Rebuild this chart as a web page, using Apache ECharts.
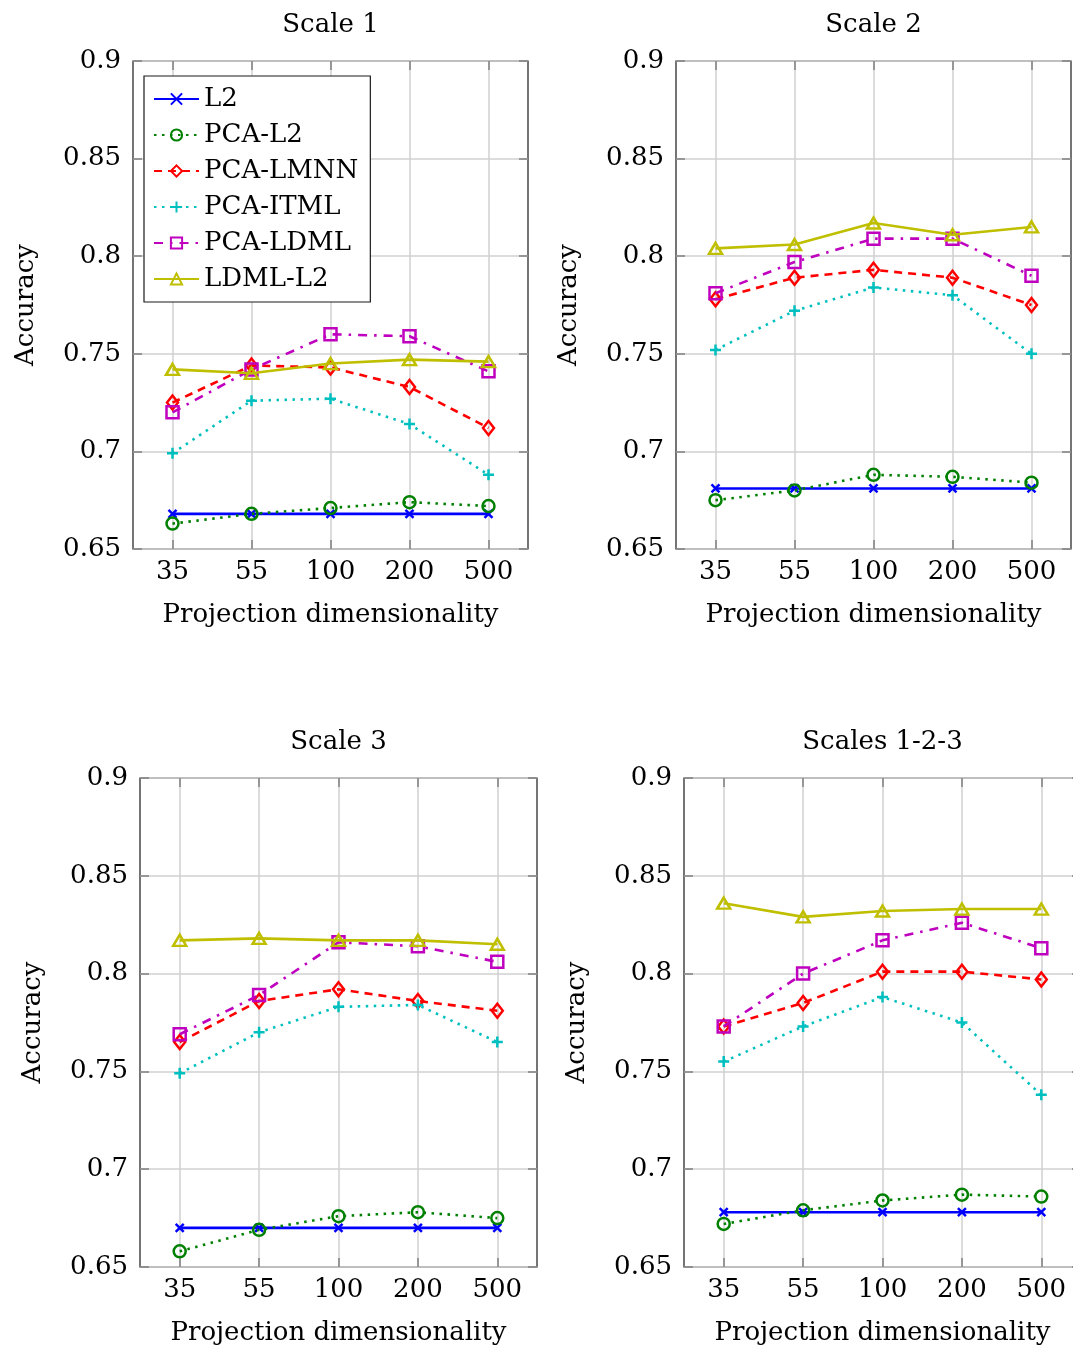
<!DOCTYPE html>
<html>
<head>
<meta charset="utf-8">
<title>Accuracy vs projection dimensionality</title>
<script src="https://cdn.jsdelivr.net/npm/echarts@6/dist/echarts.min.js"></script>
<style>
  html, body { margin: 0; padding: 0; background: #fff; overflow: hidden; }
  #chart { width: 1090px; height: 1347px; }
</style>
</head>
<body>
<div id="chart"></div>
<script>
// Category labels on the x axis (projection dimensionality)
const categories = ['35', '55', '100', '200', '500'];
const panelTitles = ['Scale 1', 'Scale 2', 'Scale 3', 'Scales 1-2-3'];
const methodNames = ['L2', 'PCA-L2', 'PCA-LMNN', 'PCA-ITML', 'PCA-LDML', 'LDML-L2'];
const yMin = 0.65, yMax = 0.9, yStep = 0.05;

// Scale 1
const s1L2       = [0.668, 0.668, 0.668, 0.668, 0.668];
const s1PcaL2    = [0.663, 0.668, 0.671, 0.674, 0.672];
const s1PcaLmnn  = [0.725, 0.744, 0.743, 0.733, 0.712];
const s1PcaItml  = [0.699, 0.726, 0.727, 0.714, 0.688];
const s1PcaLdml  = [0.720, 0.742, 0.760, 0.759, 0.741];
const s1LdmlL2   = [0.742, 0.740, 0.745, 0.747, 0.746];

// Scale 2
const s2L2       = [0.681, 0.681, 0.681, 0.681, 0.681];
const s2PcaL2    = [0.675, 0.680, 0.688, 0.687, 0.684];
const s2PcaLmnn  = [0.778, 0.789, 0.793, 0.789, 0.775];
const s2PcaItml  = [0.752, 0.772, 0.784, 0.780, 0.750];
const s2PcaLdml  = [0.781, 0.797, 0.809, 0.809, 0.790];
const s2LdmlL2   = [0.804, 0.806, 0.817, 0.811, 0.815];

// Scale 3
const s3L2       = [0.670, 0.670, 0.670, 0.670, 0.670];
const s3PcaL2    = [0.658, 0.669, 0.676, 0.678, 0.675];
const s3PcaLmnn  = [0.765, 0.786, 0.792, 0.786, 0.781];
const s3PcaItml  = [0.749, 0.770, 0.783, 0.784, 0.765];
const s3PcaLdml  = [0.769, 0.789, 0.816, 0.814, 0.806];
const s3LdmlL2   = [0.817, 0.818, 0.817, 0.817, 0.815];

// Scales 1-2-3
const s4L2       = [0.678, 0.678, 0.678, 0.678, 0.678];
const s4PcaL2    = [0.672, 0.679, 0.684, 0.687, 0.686];
const s4PcaLmnn  = [0.773, 0.785, 0.801, 0.801, 0.797];
const s4PcaItml  = [0.755, 0.773, 0.788, 0.775, 0.738];
const s4PcaLdml  = [0.773, 0.800, 0.817, 0.826, 0.813];
const s4LdmlL2   = [0.836, 0.829, 0.832, 0.833, 0.833];

const panelData = [
  [s1L2, s1PcaL2, s1PcaLmnn, s1PcaItml, s1PcaLdml, s1LdmlL2],
  [s2L2, s2PcaL2, s2PcaLmnn, s2PcaItml, s2PcaLdml, s2LdmlL2],
  [s3L2, s3PcaL2, s3PcaLmnn, s3PcaItml, s3PcaLdml, s3LdmlL2],
  [s4L2, s4PcaL2, s4PcaLmnn, s4PcaItml, s4PcaLdml, s4LdmlL2]
];

// ---- presentation ----
const FONT = 'DejaVu Serif';
const FS = 26;
const grids = [
  { left: 133, top: 61,  width: 395, height: 488 },
  { left: 676, top: 61,  width: 395, height: 488 },
  { left: 140, top: 778, width: 397, height: 489 },
  { left: 684, top: 778, width: 397, height: 489 }
];

const styles = [
  { color: '#0000ff', dash: 'solid',          symbol: 'path://M0,0L10,10M10,0L0,10', size: 8 },
  { color: '#008000', dash: [2.5, 5.5],       symbol: 'circle',   size: 12 },
  { color: '#ff0000', dash: [8, 6],           symbol: 'diamond',  size: [11, 14] },
  { color: '#00bfbf', dash: [2.5, 5.5],       symbol: 'path://M5,0L5,10M0,5L10,5', size: 11 },
  { color: '#bf00bf', dash: [9, 7, 2.5, 7],   symbol: 'rect',     size: 12 },
  { color: '#bfbf00', dash: 'solid',          symbol: 'triangle', size: [13, 11] }
];

const gridLine = { show: true, lineStyle: { color: '#d0d0d0', width: 1.5 } };
const innerTick = { show: true, inside: true, length: 9, alignWithLabel: true, lineStyle: { color: '#808080', width: 1.5 } };

const xAxes = [], yAxes = [], series = [], graphics = [];

grids.forEach((g, i) => {
  xAxes.push({
    type: 'category', gridIndex: i, data: categories, boundaryGap: true, position: 'bottom',
    axisLine: { show: false },
    axisTick: innerTick,
    splitLine: Object.assign({ alignWithLabel: true }, gridLine),
    axisLabel: { fontFamily: FONT, fontSize: FS, color: '#000', margin: 10 },
    name: 'Projection dimensionality', nameLocation: 'middle', nameGap: 53,
    nameTextStyle: { fontFamily: FONT, fontSize: FS, color: '#000' }
  });
  xAxes.push({
    type: 'category', gridIndex: i, data: categories, boundaryGap: true, position: 'top',
    axisLine: { show: false }, axisTick: innerTick, axisLabel: { show: false }, splitLine: { show: false }
  });
  yAxes.push({
    type: 'value', gridIndex: i, min: yMin, max: yMax, interval: yStep, position: 'left',
    axisLine: { show: false },
    axisTick: innerTick,
    splitLine: gridLine,
    axisLabel: { fontFamily: FONT, fontSize: FS, color: '#000', margin: 12 },
    name: 'Accuracy', nameLocation: 'middle', nameGap: 94, nameRotate: 90,
    nameTextStyle: { fontFamily: FONT, fontSize: FS, color: '#000' }
  });
  yAxes.push({
    type: 'value', gridIndex: i, min: yMin, max: yMax, interval: yStep, position: 'right',
    axisLine: { show: false }, axisTick: innerTick, axisLabel: { show: false }, splitLine: { show: false }
  });

  methodNames.forEach((name, k) => {
    const st = styles[k];
    series.push({
      type: 'line', name: name,
      xAxisIndex: i * 2, yAxisIndex: i * 2,
      data: panelData[i][k],
      symbol: st.symbol, symbolSize: st.size, showSymbol: true, showAllSymbol: true,
      lineStyle: { color: st.color, width: 2.6, type: st.dash, cap: 'butt' },
      itemStyle: { color: 'rgba(255,255,255,0)', borderColor: st.color, borderWidth: 2.5 },
      emphasis: { disabled: true },
      z: 3 + k
    });
  });

  graphics.push({
    type: 'text',
    x: g.left + g.width / 2,
    y: g.top - 36,
    style: { text: panelTitles[i], fontFamily: FONT, fontSize: FS, fill: '#000', textAlign: 'center', textVerticalAlign: 'middle' }
  });
});

const chart = echarts.init(document.getElementById('chart'), null, { renderer: 'canvas' });
chart.setOption({
  animation: false,
  backgroundColor: '#ffffff',
  grid: grids.map(g => Object.assign({ show: true, borderColor: '#1a1a1a', borderWidth: 1.2, backgroundColor: 'transparent', containLabel: false }, g)),
  xAxis: xAxes,
  yAxis: yAxes,
  legend: {
    show: true, orient: 'vertical', left: 144, top: 76,
    data: methodNames, selectedMode: false,
    itemWidth: 45, itemHeight: 14, itemGap: 10,
    padding: [10, 12, 10, 9],
    borderColor: '#1a1a1a', borderWidth: 1.2, backgroundColor: '#ffffff',
    textStyle: { fontFamily: FONT, fontSize: FS, color: '#000' }
  },
  graphic: graphics,
  series: series
});
</script>
</body>
</html>
